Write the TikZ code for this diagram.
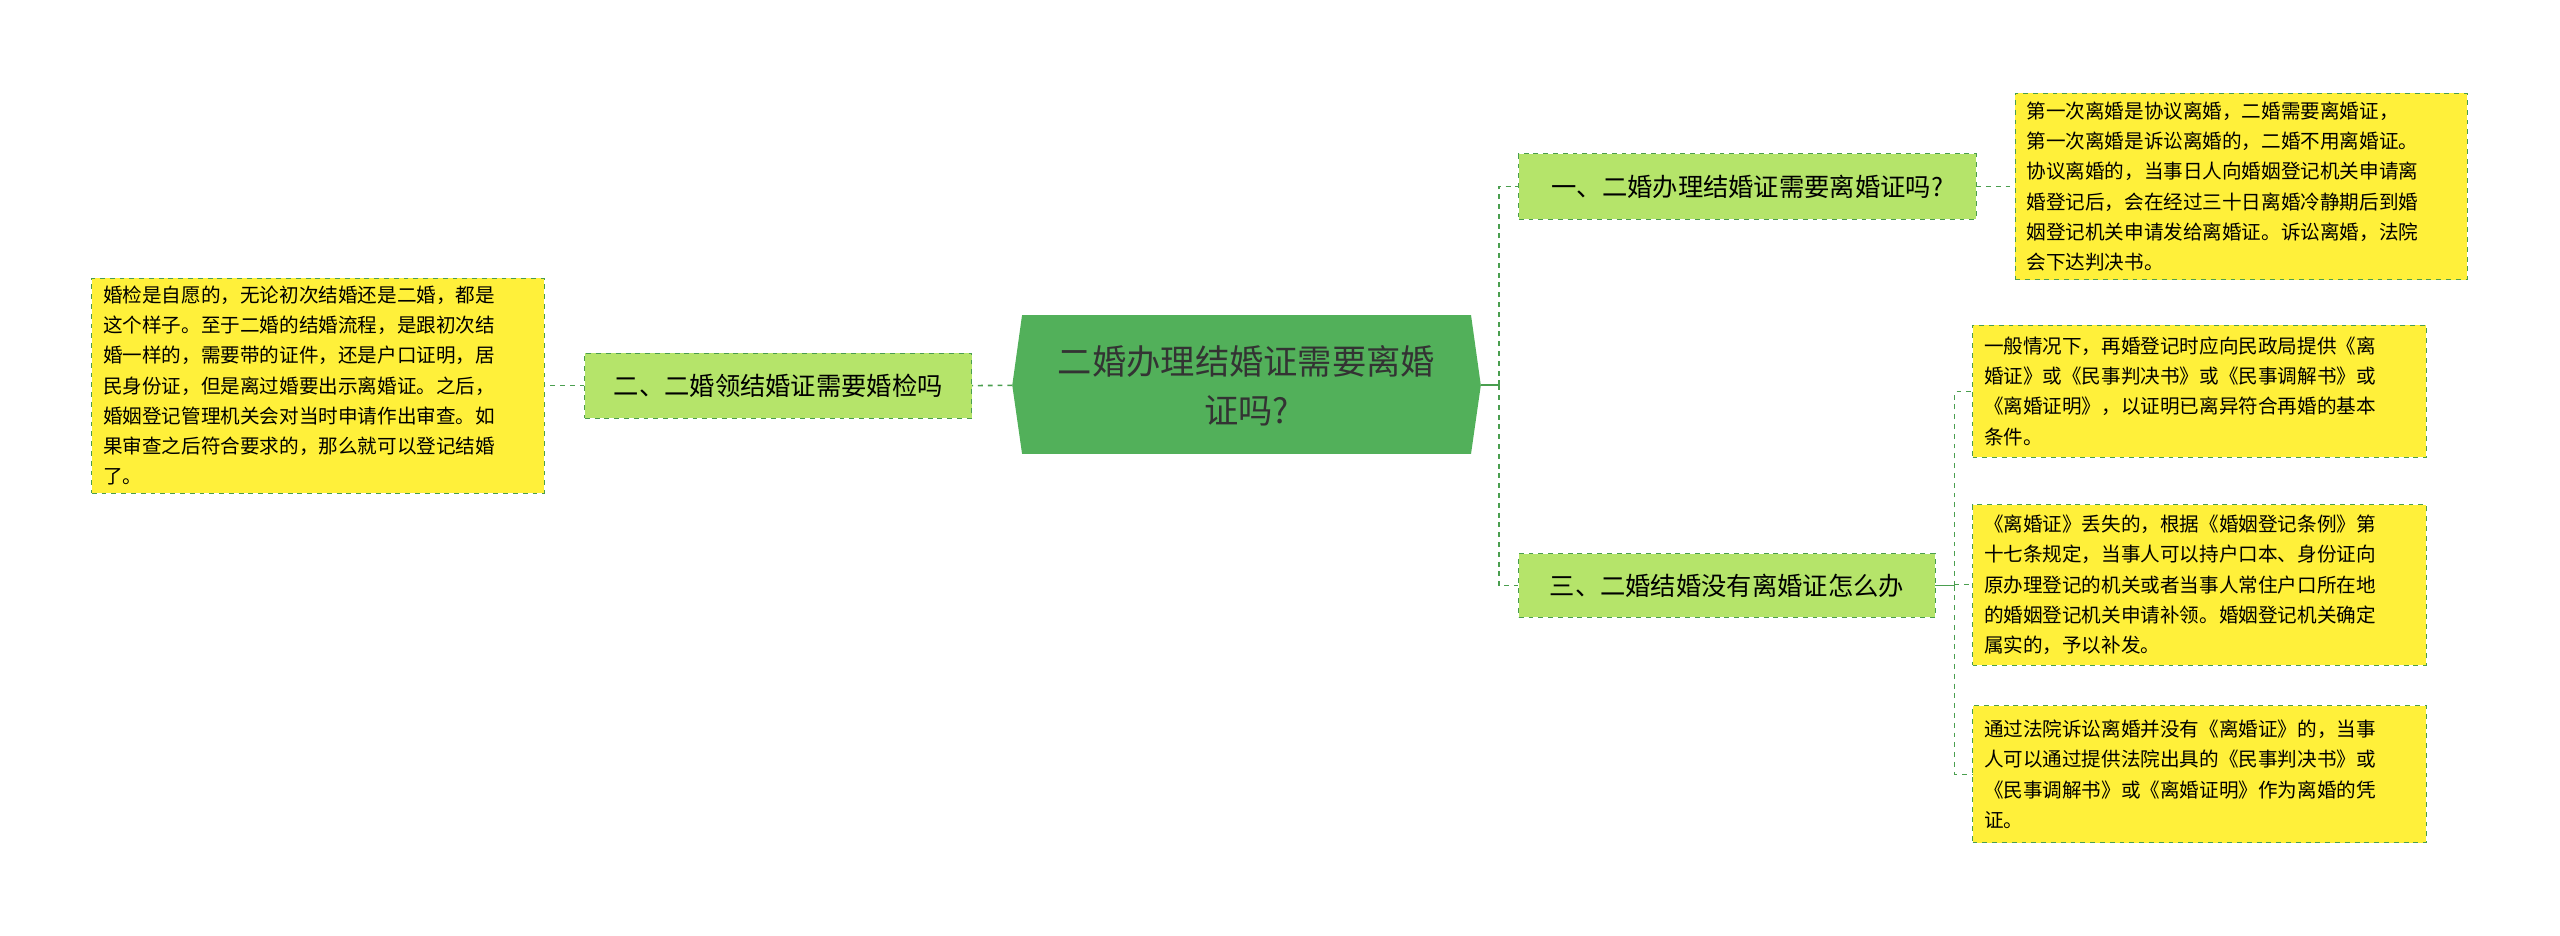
\documentclass[tikz,border=0pt]{standalone}
\usepackage{fontspec}
\newfontfamily\cjk{Noto Sans CJK SC}
\definecolor{cgreen}{HTML}{52B05A}
\definecolor{lgreen}{HTML}{B5E46A}
\definecolor{yel}{HTML}{FFF03A}
\definecolor{lin}{HTML}{4A9E4F}
\tikzset{
 br/.style={draw=lin,dashed,fill=lgreen,font=\cjk\fontsize{15.5}{19}\selectfont,inner sep=0pt,anchor=north west},
 lf/.style={draw=lin,dashed,fill=yel,font=\cjk\fontsize{12}{18.5}\selectfont,inner sep=0pt,anchor=north west,align=left},
 cn/.style={lin,dashed,line width=1pt},
}
\begin{document}
\begin{tikzpicture}[x=1pt,y=-1pt]
\useasboundingbox (0,0) rectangle (1568,573);
% center
\fill[cgreen] (626,193)--(901,193)--(907,236)--(901,278)--(626,278)--(620,236)--cycle;
\node[font=\cjk\fontsize{21}{30}\selectfont,text=black!80,align=center] (c) at (763.5,236) {二婚办理结婚证需要离婚\\证吗?};
\coordinate (cr) at (907,236); \coordinate (cl) at (620,236);
% branches
\node[br,minimum width=280,minimum height=40] (b1) at (930,94) {一、二婚办理结婚证需要离婚证吗?};
\node[br,minimum width=237,minimum height=40] (b2) at (358,216) {二、二婚领结婚证需要婚检吗};
\node[br,minimum width=255,minimum height=39] (b3) at (930,339) {三、二婚结婚没有离婚证怎么办};
% leaves
\node[lf,minimum width=277,minimum height=114,text width=265] (l1) at (1234,57) {\hspace*{1pt}第一次离婚是协议离婚，二婚需要离婚证，\\ \hspace*{1pt}第一次离婚是诉讼离婚的，二婚不用离婚证。\\ \hspace*{1pt}协议离婚的，当事日人向婚姻登记机关申请离\\ \hspace*{1pt}婚登记后，会在经过三十日离婚冷静期后到婚\\ \hspace*{1pt}姻登记机关申请发给离婚证。诉讼离婚，法院\\ \hspace*{1pt}会下达判决书。};
\node[lf,minimum width=277,minimum height=132,text width=265] (l2) at (56,170) {\hspace*{1pt}婚检是自愿的，无论初次结婚还是二婚，都是\\ \hspace*{1pt}这个样子。至于二婚的结婚流程，是跟初次结\\ \hspace*{1pt}婚一样的，需要带的证件，还是户口证明，居\\ \hspace*{1pt}民身份证，但是离过婚要出示离婚证。之后，\\ \hspace*{1pt}婚姻登记管理机关会对当时申请作出审查。如\\ \hspace*{1pt}果审查之后符合要求的，那么就可以登记结婚\\ \hspace*{1pt}了。};
\node[lf,minimum width=278,minimum height=81,text width=266] (l3) at (1208,199) {\hspace*{1pt}一般情况下，再婚登记时应向民政局提供《离\\ \hspace*{1pt}婚证》或《民事判决书》或《民事调解书》或\\ \hspace*{1pt}《离婚证明》，以证明已离异符合再婚的基本\\ \hspace*{1pt}条件。};
\node[lf,minimum width=278,minimum height=98,text width=266] (l4) at (1208,309) {\hspace*{1pt}《离婚证》丢失的，根据《婚姻登记条例》第\\ \hspace*{1pt}十七条规定，当事人可以持户口本、身份证向\\ \hspace*{1pt}原办理登记的机关或者当事人常住户口所在地\\ \hspace*{1pt}的婚姻登记机关申请补领。婚姻登记机关确定\\ \hspace*{1pt}属实的，予以补发。};
\node[lf,minimum width=278,minimum height=84,text width=266] (l5) at (1208,432) {\hspace*{1pt}通过法院诉讼离婚并没有《离婚证》的，当事\\ \hspace*{1pt}人可以通过提供法院出具的《民事判决书》或\\ \hspace*{1pt}《民事调解书》或《离婚证明》作为离婚的凭\\ \hspace*{1pt}证。};
% connectors
\draw[lin,line width=1.2pt] (cr)--++(11,0);
\draw[cn] (cr)++(11,0) |- (b1.west);
\draw[cn] (cr)++(11,0) |- (b3.west);
\draw[cn] (cl)--(b2.east);
\draw[cn,line width=0.6pt] (b2.west)--(l2.east);
\draw[cn,line width=0.6pt] (b1.east)--(l1.west);
\draw[lin,line width=0.6pt] (b3.east)--++(12,0);
\draw[cn,line width=0.6pt] (b3.east)++(12,0) |- (l3.west);
\draw[cn,line width=0.6pt] (b3.east)++(12,0) |- (l4.west);
\draw[cn,line width=0.6pt] (b3.east)++(12,0) |- (l5.west);
\end{tikzpicture}
\end{document}
